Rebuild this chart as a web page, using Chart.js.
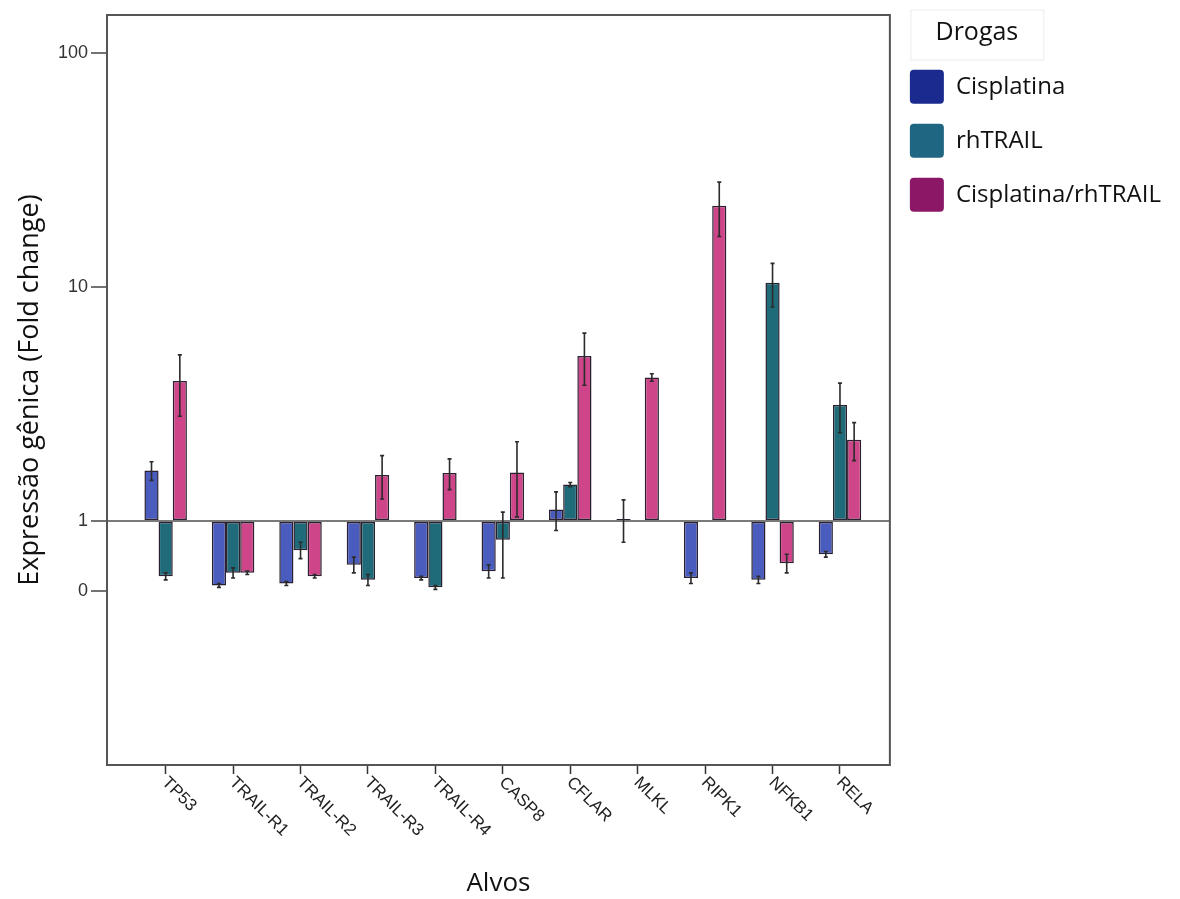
<!DOCTYPE html>
<html>
<head>
<meta charset="utf-8">
<script src="https://cdn.jsdelivr.net/npm/chart.js@4.4.1/dist/chart.umd.min.js"></script>
<style>
  html, body { margin: 0; padding: 0; background: #fff; }
  #wrap { width: 1180px; height: 899px; }
</style>
</head>
<body>
<div id="wrap"><canvas id="chart" width="1180" height="899"></canvas></div>
<script>
// gene targets (x axis)
const categories = ['TP53', 'TRAIL-R1', 'TRAIL-R2', 'TRAIL-R3', 'TRAIL-R4', 'CASP8', 'CFLAR', 'MLKL', 'RIPK1', 'NFKB1', 'RELA'];
const seriesNames = ['Cisplatina', 'rhTRAIL', 'Cisplatina/rhTRAIL'];

// fold change (bars start at 1)
const cisplatina    = [1.64, 0.53, 0.54, 0.65, 0.57, 0.61, 1.12, 1.02, 0.57, 0.56, 0.72];
const cisplatinaErr = [0.15, 0.01, 0.01, 0.05, 0.01, 0.04, 0.21, 0.21, 0.03, 0.02, 0.02];
const rhTRAIL       = [0.58, 0.60, 0.75, 0.56, 0.52, 0.83, 1.43, null, null, 10.4, 3.13];
const rhTRAILErr    = [0.02, 0.03, 0.06, 0.03, 0.01, 0.26, 0.03, null, null, 2.2, 0.75];
const combo         = [3.96, 0.60, 0.58, 1.57, 1.60, 1.61, 5.07, 4.10, 22.2, 0.66, 2.22];
const comboErr      = [1.16, 0.01, 0.01, 0.33, 0.24, 0.57, 1.27, 0.15, 5.8, 0.06, 0.41];

const yTickValues = [0.5, 1, 10, 100];
const yTickLabels = ['0', '1', '10', '100'];

const barColors = ['#4a5cbd', '#1f6b7a', '#cf4589'];
const legendColors = ['#1b2a8f', '#1e6681', '#8c1767'];
const errors = [cisplatinaErr, rhTRAILErr, comboErr];

function toPoints(arr) {
  return arr.map((v, i) => ({ x: i, y: v }));
}

// frame around plot area
const framePlugin = {
  id: 'frame',
  afterDraw(chart) {
    const a = chart.chartArea, ctx = chart.ctx;
    ctx.save();
    ctx.strokeStyle = '#555';
    ctx.lineWidth = 2;
    ctx.strokeRect(a.left, a.top, a.right - a.left, a.bottom - a.top);
    ctx.restore();
  }
};

// error bars
const errorBarPlugin = {
  id: 'errorBars',
  afterDatasetsDraw(chart) {
    const ctx = chart.ctx, y = chart.scales.y;
    ctx.save();
    ctx.strokeStyle = '#2b2b2b';
    ctx.lineWidth = 1.6;
    chart.data.datasets.forEach((ds, di) => {
      const meta = chart.getDatasetMeta(di);
      meta.data.forEach((bar, j) => {
        const v = ds.data[j].y, sd = errors[di][j];
        if (v == null || sd == null) return;
        const top = y.getPixelForValue(v + sd);
        const bot = y.getPixelForValue(Math.max(v - sd, 0.01));
        ctx.beginPath();
        ctx.moveTo(bar.x, top); ctx.lineTo(bar.x, bot);
        ctx.moveTo(bar.x - 2, top); ctx.lineTo(bar.x + 2, top);
        ctx.moveTo(bar.x - 2, bot); ctx.lineTo(bar.x + 2, bot);
        ctx.stroke();
      });
    });
    ctx.restore();
  }
};

// rotated category labels, reading downwards from each tick
const xLabelPlugin = {
  id: 'xLabels',
  afterDraw(chart) {
    const ctx = chart.ctx, xs = chart.scales.x, a = chart.chartArea;
    ctx.save();
    ctx.font = '17px "Liberation Sans", Arial, sans-serif';
    ctx.fillStyle = '#222';
    ctx.textAlign = 'left';
    ctx.textBaseline = 'middle';
    categories.forEach((c, i) => {
      const px = xs.getPixelForValue(i);
      ctx.save();
      ctx.translate(px - 1, a.bottom + 15);
      ctx.rotate(Math.PI / 4);
      ctx.fillText(c, 0, 0);
      ctx.restore();
    });
    ctx.restore();
  }
};

// boxed legend title
const legendTitlePlugin = {
  id: 'legendTitle',
  afterDraw(chart) {
    const lg = chart.legend, ctx = chart.ctx;
    if (!lg) return;
    const bx = lg.left + 21, by = 10;
    ctx.save();
    ctx.strokeStyle = '#ececec';
    ctx.lineWidth = 1;
    ctx.strokeRect(bx, by, 133, 50);
    ctx.fillStyle = '#111';
    ctx.font = '25px "Open Sans", sans-serif';
    ctx.textAlign = 'center';
    ctx.textBaseline = 'middle';
    ctx.fillText('Drogas', bx + 66, by + 23);
    ctx.restore();
  }
};

new Chart(document.getElementById('chart'), {
  type: 'bar',
  data: {
    datasets: [
      { label: seriesNames[0], data: toPoints(cisplatina), backgroundColor: barColors[0] },
      { label: seriesNames[1], data: toPoints(rhTRAIL), backgroundColor: barColors[1] },
      { label: seriesNames[2], data: toPoints(combo), backgroundColor: barColors[2] }
    ]
  },
  options: {
    responsive: false,
    animation: false,
    layout: { padding: { top: 15, left: 14, right: 9, bottom: 0 } },
    datasets: {
      bar: {
        base: 1,
        categoryPercentage: 0.63,
        barPercentage: 1,
        borderColor: '#2a2030',
        borderWidth: 1.5,
        borderSkipped: false
      }
    },
    scales: {
      x: {
        type: 'linear',
        min: -0.87,
        max: 10.74,
        offset: false,
        afterBuildTicks(scale) {
          scale.ticks = categories.map((c, i) => ({ value: i }));
        },
        afterFit(scale) { scale.height = 134; },
        ticks: { display: false },
        grid: { display: true, drawOnChartArea: false, offset: false, tickLength: 9, tickColor: '#333', tickWidth: 1.5 },
        border: { display: true, color: '#555', width: 2 },
        title: {
          display: true,
          text: 'Alvos',
          color: '#111',
          padding: { top: 0, bottom: 0 },
          font: { family: '"Open Sans", sans-serif', size: 26 }
        }
      },
      y: {
        type: 'logarithmic',
        min: 0.0906,
        max: 145,
        afterBuildTicks(scale) {
          scale.ticks = yTickValues.map(v => ({ value: v }));
        },
        afterFit(scale) { scale.width = 93; },
        ticks: {
          color: '#333',
          padding: 3,
          font: { family: '"Liberation Sans", Arial, sans-serif', size: 18 },
          callback(value) {
            const k = yTickValues.indexOf(value);
            return k >= 0 ? yTickLabels[k] : '';
          }
        },
        grid: {
          color: ctx => (ctx.tick && ctx.tick.value === 1 ? '#7a7a7a' : 'rgba(0,0,0,0)'),
          lineWidth: 2,
          tickColor: '#444',
          tickLength: 16,
          tickWidth: 1.5
        },
        border: { display: true, color: '#555', width: 2 },
        title: {
          display: true,
          text: 'Expressão gênica (Fold change)',
          color: '#111',
          padding: { top: 0, bottom: 0 },
          font: { family: '"Open Sans", sans-serif', size: 27 }
        }
      }
    },
    plugins: {
      tooltip: { enabled: false },
      legend: {
        position: 'right',
        align: 'start',
        title: {
          display: true,
          text: 'Drogas',
          color: 'rgba(0,0,0,0)',
          padding: { top: 2, bottom: 4 },
          font: { family: '"Open Sans", sans-serif', size: 24 }
        },
        labels: {
          boxWidth: 34,
          boxHeight: 34,
          padding: 20,
          useBorderRadius: true,
          borderRadius: 4,
          color: '#111',
          font: { family: '"Open Sans", sans-serif', size: 24 },
          generateLabels(chart) {
            const items = Chart.defaults.plugins.legend.labels.generateLabels(chart);
            items.forEach((it, i) => {
              it.fillStyle = legendColors[i];
              it.strokeStyle = legendColors[i];
              it.lineWidth = 0;
            });
            return items;
          }
        }
      }
    }
  },
  plugins: [framePlugin, errorBarPlugin, xLabelPlugin, legendTitlePlugin]
});
</script>
</body>
</html>
